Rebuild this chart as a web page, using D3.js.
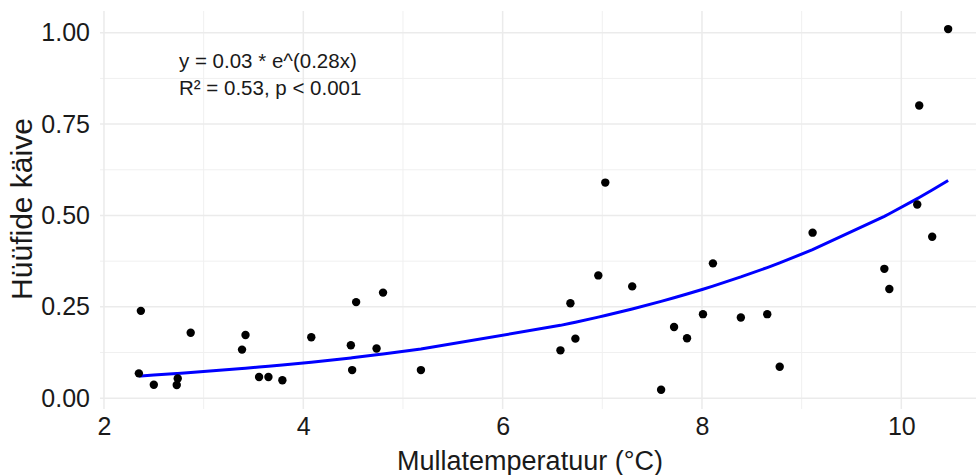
<!DOCTYPE html>
<html>
<head>
<meta charset="utf-8">
<script src="https://cdn.jsdelivr.net/npm/d3@7"></script>
<style>
body{margin:0;background:#fff;}
text{font-family:Arial,"Liberation Sans",sans-serif;}
</style>
</head>
<body>
<div id="chart"></div>
<script>
// soil temperature (°C) and hyphal turnover
const temps=[2.37,2.35,2.50,2.73,2.74,2.87,3.385,3.42,3.556,3.65,3.79,4.08,4.477,4.53,4.49,4.735,4.80,
	5.18,7.03,6.96,7.30,6.68,6.73,6.58,7.59,7.72,7.85,8.01,8.11,8.39,8.655,8.78,9.11,9.83,9.88,10.31,10.47,10.18,10.16]
const turnover=[0.239,0.068,0.037,0.036,0.054,0.179,0.133,0.173,0.058,0.058,0.049,0.167,0.145,0.263,0.077,0.136,0.289,
	0.077,0.590,0.336,0.306,0.260,0.163,0.131,0.023,0.195,0.164,0.230,0.369,0.221,0.230,0.086,0.453,0.354,0.299,0.442,1.010,0.801,0.530]

// exponential fit y = a*e^(b*x)
const fitCoef=[0.0313,0.2814]
const fitLabel=['y = 0.03 * e^(0.28x)','R² = 0.53, p < 0.001']

const xTicks=[2,4,6,8,10]
const yTicks=[0,0.25,0.5,0.75,1]

const W=976,H=475
const margin=({top:11,right:-14,bottom:66,left:100})
const width=W-margin.left-margin.right,
	height=H-margin.top-margin.bottom

const data=temps.map((t,i)=>({x:t,y:turnover[i]}))

let svg=d3.select('#chart').append('svg')
	.attr('width',W)
	.attr('height',H)

let xScale=d3.scaleLinear()
	.domain([1.96,10.89])
	.range([margin.left,margin.left+width])

let yScale=d3.scaleLinear()
	.domain([-0.0295,1.0595])
	.range([margin.top+height,margin.top])

let grid=svg.append('g')

// minor grid
grid.selectAll('.vminor').data([3,5,7,9]).join('line')
	.attr('x1',d=>xScale(d)).attr('x2',d=>xScale(d))
	.attr('y1',margin.top).attr('y2',margin.top+height)
	.attr('stroke','#f0f0f0').attr('stroke-width',1)
grid.selectAll('.hminor').data([0.125,0.375,0.625,0.875]).join('line')
	.attr('y1',d=>yScale(d)).attr('y2',d=>yScale(d))
	.attr('x1',margin.left).attr('x2',margin.left+width)
	.attr('stroke','#f0f0f0').attr('stroke-width',1)

// major grid
grid.selectAll('.vmajor').data(xTicks).join('line')
	.attr('x1',d=>xScale(d)).attr('x2',d=>xScale(d))
	.attr('y1',margin.top).attr('y2',margin.top+height)
	.attr('stroke','#ebebeb').attr('stroke-width',1.5)
grid.selectAll('.hmajor').data(yTicks).join('line')
	.attr('y1',d=>yScale(d)).attr('y2',d=>yScale(d))
	.attr('x1',margin.left).attr('x2',margin.left+width)
	.attr('stroke','#ebebeb').attr('stroke-width',1.5)

let xAxis=d3.axisBottom(xScale)
	.tickValues(xTicks)
	.tickSize(0)
	.tickPadding(8)
	.tickFormat(d3.format('d'))

let yAxis=d3.axisLeft(yScale)
	.tickValues(yTicks)
	.tickSize(0)
	.tickPadding(10)
	.tickFormat(d3.format('.2f'))

svg.append('g')
	.attr('class','x-axis')
	.attr('transform',`translate(0,${margin.top+height})`)
	.call(xAxis)
	.call(g=>g.select('.domain').remove())
	.selectAll('text')
	.attr('font-size',25)
	.attr('fill','#1a1a1a')

svg.append('g')
	.attr('class','y-axis')
	.attr('transform',`translate(${margin.left},0)`)
	.call(yAxis)
	.call(g=>g.select('.domain').remove())
	.selectAll('text')
	.attr('font-size',25)
	.attr('fill','#1a1a1a')

// fitted curve evaluated at the observed temperatures
let fitted=temps.slice().sort(d3.ascending)
	.map(t=>({x:t,y:fitCoef[0]*Math.exp(fitCoef[1]*t)}))

let line=d3.line()
	.x(d=>xScale(d.x))
	.y(d=>yScale(d.y))

svg.append('path')
	.datum(fitted)
	.attr('fill','none')
	.attr('stroke','#0000ff')
	.attr('stroke-width',3)
	.attr('d',line)

svg.selectAll('.pt').data(data).join('circle')
	.attr('cx',d=>xScale(d.x))
	.attr('cy',d=>yScale(d.y))
	.attr('r',4.2)
	.attr('fill','#000')

svg.selectAll('.lbl').data(fitLabel).join('text')
	.attr('x',179)
	.attr('y',(d,i)=>68+i*27)
	.attr('font-size',20.5)
	.attr('fill','#1a1a1a')
	.text(d=>d)

svg.append('text')
	.attr('x',530)
	.attr('y',470)
	.attr('text-anchor','middle')
	.attr('font-size',27)
	.attr('fill','#1a1a1a')
	.text('Mullatemperatuur (°C)')

svg.append('text')
	.attr('transform','translate(32,209) rotate(-90)')
	.attr('text-anchor','middle')
	.attr('font-size',30)
	.attr('fill','#1a1a1a')
	.text('Hüüfide käive')
</script>
</body>
</html>
